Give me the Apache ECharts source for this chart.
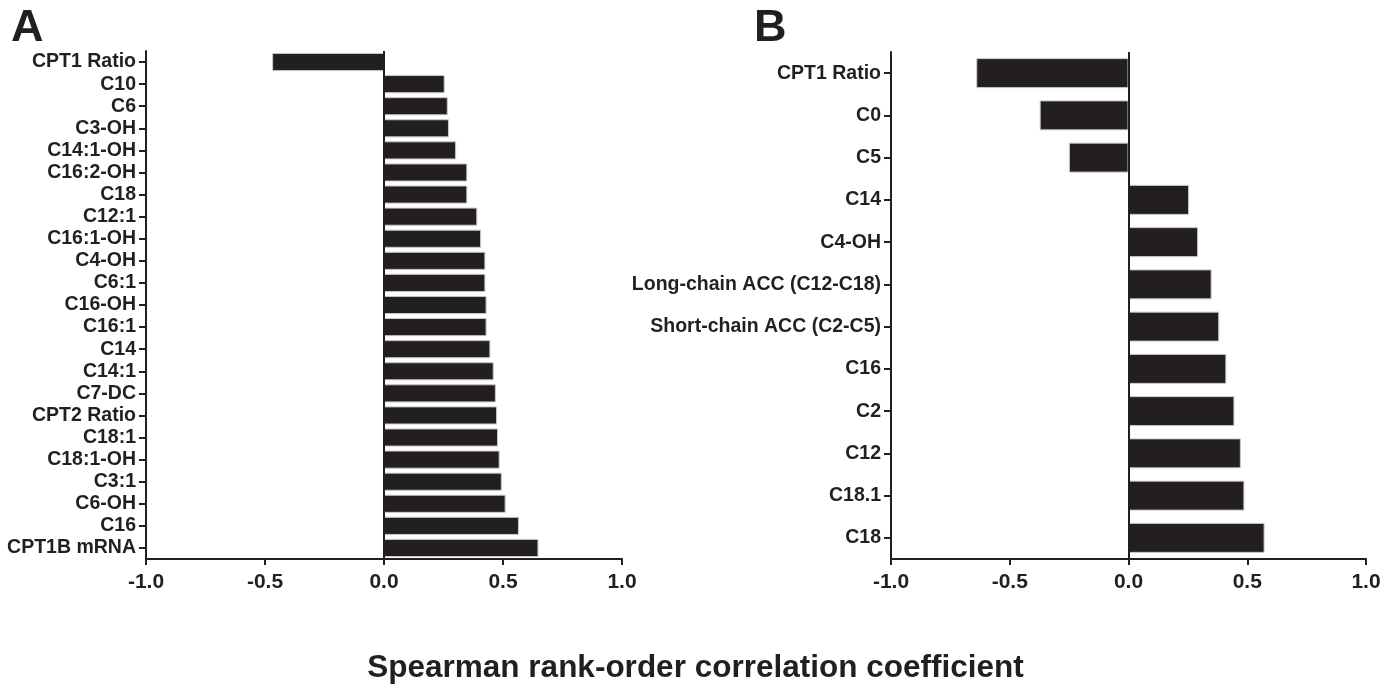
<!DOCTYPE html>
<html>
<head>
<meta charset="utf-8">
<script src="https://cdn.jsdelivr.net/npm/echarts@6/dist/echarts.min.js"></script>
<style>
html,body{margin:0;padding:0;background:#fff;}
#chart{width:1391px;height:688px;}
</style>
</head>
<body>
<div id="chart"></div>
<script>
// Panel A data
const catsA = ["CPT1 Ratio","C10","C6","C3-OH","C14:1-OH","C16:2-OH","C18","C12:1","C16:1-OH","C4-OH","C6:1","C16-OH","C16:1","C14","C14:1","C7-DC","CPT2 Ratio","C18:1","C18:1-OH","C3:1","C6-OH","C16","CPT1B mRNA"];
const valsA = [-0.47,0.255,0.268,0.273,0.303,0.35,0.35,0.392,0.408,0.426,0.426,0.431,0.431,0.447,0.461,0.47,0.475,0.479,0.486,0.495,0.511,0.567,0.649];
// Panel B data
const catsB = ["CPT1 Ratio","C0","C5","C14","C4-OH","Long-chain ACC (C12-C18)","Short-chain ACC (C2-C5)","C16","C2","C12","C18.1","C18"];
const valsB = [-0.641,-0.374,-0.251,0.255,0.293,0.35,0.382,0.412,0.446,0.473,0.488,0.573];
const xTicks = [-1.0,-0.5,0.0,0.5,1.0];
const titleText = "Spearman rank-order correlation coefficient";

const FONT = "'Liberation Sans', Arial, Helvetica, sans-serif";
const INK = "#231f20";

function xAx(gi){
  return {
    type:'value', gridIndex:gi, min:-1, max:1, interval:0.5,
    splitLine:{show:false},
    axisLine:{show:true, lineStyle:{color:INK,width:2}},
    axisTick:{show:true, length:6, lineStyle:{color:INK,width:2}},
    axisLabel:{color:INK, fontFamily:FONT, fontWeight:'bold', fontSize:21, margin:13,
      formatter:v=>{const t=xTicks.find(x=>Math.abs(x-v)<1e-9); return t===undefined?'':t.toFixed(1);}}
  };
}
function yAx(gi,cats){
  return {
    type:'category', gridIndex:gi, data:cats, inverse:true,
    axisLine:{show:true, onZero:false, lineStyle:{color:INK,width:2}},
    axisTick:{show:true, alignWithLabel:true, length:7, lineStyle:{color:INK,width:2}},
    axisLabel:{color:INK, fontFamily:FONT, fontWeight:'bold', fontSize:19.5, margin:10, interval:0},
    splitLine:{show:false}
  };
}
function barSeries(gi,vals,gap){
  return {
    type:'bar', xAxisIndex:gi, yAxisIndex:gi, data:vals, barCategoryGap:gap,
    itemStyle:{color:INK, borderColor:'#c8c8c8', borderWidth:1},
    silent:true,
    markLine:{symbol:'none', silent:true, label:{show:false},
      lineStyle:{color:INK, width:2, type:'solid'}, data:[{xAxis:0}]}
  };
}

const chart = echarts.init(document.getElementById('chart'), null, {renderer:'canvas'});
chart.setOption({
  animation:false,
  backgroundColor:'#fff',
  title:[
    {text:'A', left:6, top:1, textStyle:{fontFamily:FONT, fontWeight:'bold', fontSize:45, color:INK}},
    {text:'B', left:749, top:1, textStyle:{fontFamily:FONT, fontWeight:'bold', fontSize:45, color:INK}},
    {text:titleText, left:'center', top:647, textStyle:{fontFamily:FONT, fontWeight:'bold', fontSize:31.5, color:INK}}
  ],
  grid:[
    {left:146, width:476, top:51, height:508},
    {left:891, width:475, top:52, height:507}
  ],
  xAxis:[xAx(0), xAx(1)],
  yAxis:[yAx(0,catsA), yAx(1,catsB)],
  series:[barSeries(0,valsA,'18%'), barSeries(1,valsB,'29%')]
});
</script>
</body>
</html>
